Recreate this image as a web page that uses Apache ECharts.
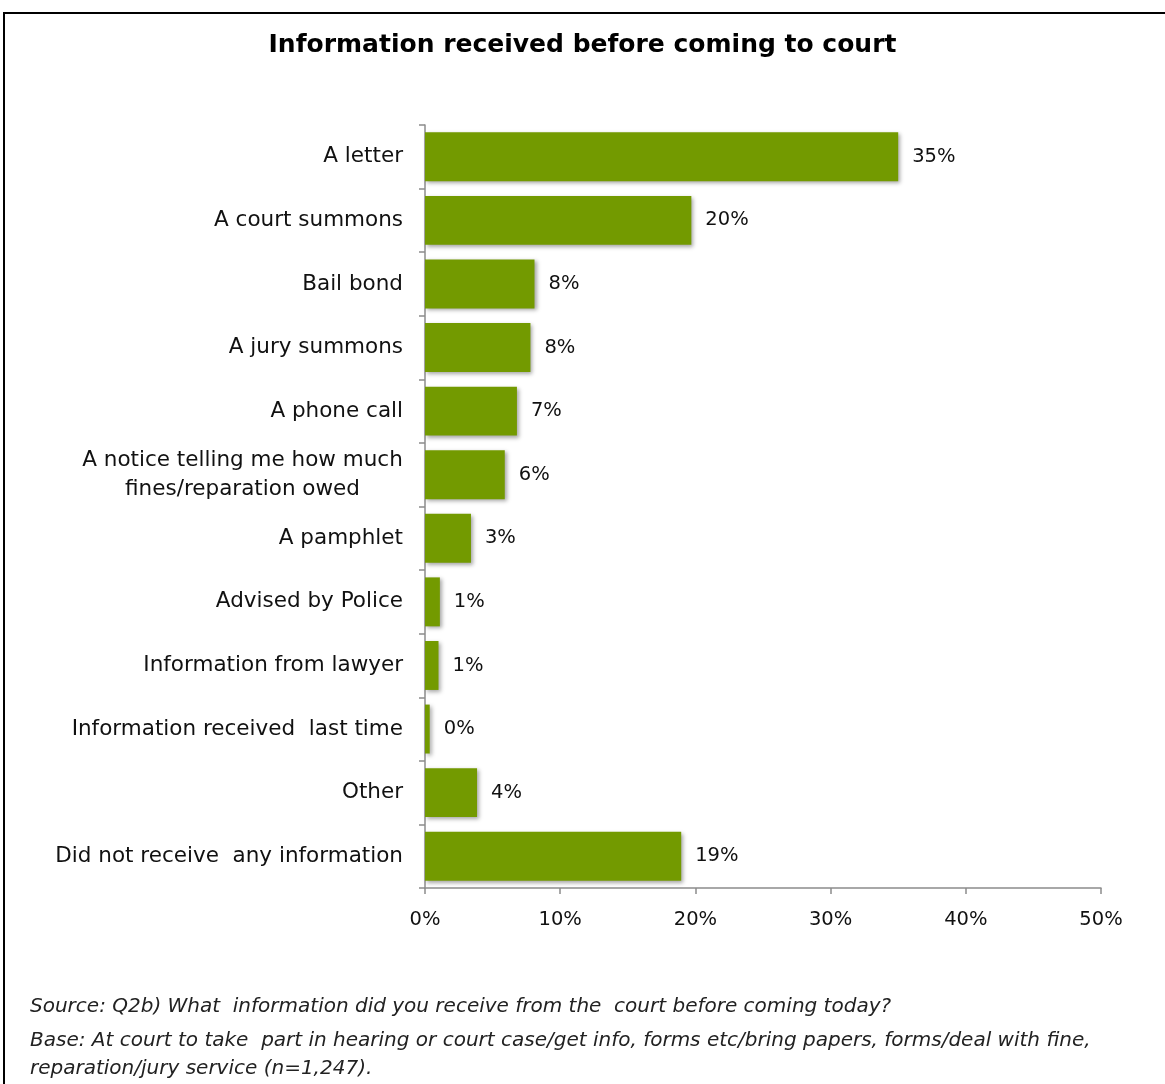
<!DOCTYPE html>
<html>
<head>
<meta charset="utf-8">
<script src="https://cdn.jsdelivr.net/npm/echarts@6/dist/echarts.min.js"></script>
<style>
  html, body { margin: 0; padding: 0; background: #fff; }
  #chart { width: 1165px; height: 1084px; }
</style>
</head>
<body>
<div id="chart"></div>
<script>
// Sources of information received before coming to court (share of respondents, %)
const categories = [
  'A letter',
  'A court summons',
  'Bail bond',
  'A jury summons',
  'A phone call',
  'A notice telling me how much\nfines/reparation owed',
  'A pamphlet',
  'Advised by Police',
  'Information from lawyer',
  'Information received  last time',
  'Other',
  'Did not receive  any information'
];
const shares = [35.0, 19.7, 8.1, 7.8, 6.8, 5.9, 3.4, 1.1, 1.0, 0.35, 3.85, 18.95];
const axisTicks = [0, 10, 20, 30, 40, 50];

const titleText = 'Information received before coming to court';
const sourceNote = 'Source: Q2b) What  information did you receive from the  court before coming today?';
const baseNote1 = 'Base: At court to take  part in hearing or court case/get info, forms etc/bring papers, forms/deal with fine,';
const baseNote2 = 'reparation/jury service (n=1,247).';

const labelFont = '"DejaVu Sans", sans-serif';
const catSize = 21.5;
const numSize = 19.5;
const noteFont = 'italic 20px ' + labelFont;

// Width of the widest line of a multi-line label, so its lines can be centred in one block
function lineWidth(text) {
  const ctx = document.createElement('canvas').getContext('2d');
  ctx.font = catSize + 'px ' + labelFont;
  return Math.ceil(Math.max.apply(null, text.split('\n').map(t => ctx.measureText(t).width)));
}

const chart = echarts.init(document.getElementById('chart'));
// Rows are listed top-down, so the category axis is inverted
const axisMax = axisTicks[axisTicks.length - 1];

chart.setOption({
  animation: false,
  title: {
    text: titleText,
    left: 'center',
    top: 28,
    textStyle: { fontFamily: '"DejaVu Sans", sans-serif', fontWeight: 'bold', fontSize: 25, color: '#000' }
  },
  grid: { left: 425, right: 64, top: 125, height: 763, containLabel: false },
  xAxis: {
    type: 'value',
    min: axisTicks[0],
    max: axisMax,
    interval: 10,
    axisLine: { show: true, lineStyle: { color: '#8c8c8c', width: 1.5 } },
    axisTick: { show: true, length: 6, lineStyle: { color: '#8c8c8c', width: 1.5 } },
    splitLine: { show: false },
    axisLabel: {
      margin: 22,
      formatter: v => v + '%',
      fontFamily: labelFont, fontSize: numSize, color: '#111'
    }
  },
  yAxis: {
    type: 'category',
    inverse: true,
    data: categories,
    axisLine: { show: true, lineStyle: { color: '#8c8c8c', width: 1.5 } },
    axisTick: { show: true, length: 6, lineStyle: { color: '#8c8c8c', width: 1.5 } },
    axisLabel: {
      margin: 22,
      fontFamily: labelFont, fontSize: catSize, color: '#111', lineHeight: 29,
      formatter: function (v) {
        if (v.indexOf('\n') < 0) return v;
        return v.split('\n').map(t => '{c|' + t + '}').join('\n');
      },
      rich: {
        c: { width: lineWidth(categories[5]), align: 'center', fontFamily: labelFont, fontSize: catSize, color: '#111', lineHeight: 29 }
      }
    }
  },
  series: [{
    type: 'bar',
    data: shares,
    barCategoryGap: '23%',
    itemStyle: {
      color: '#739a00',
      shadowColor: 'rgba(0,0,0,0.35)',
      shadowBlur: 4,
      shadowOffsetX: 2,
      shadowOffsetY: 2
    },
    label: {
      show: true,
      position: 'right',
      distance: 14,
      formatter: p => Math.round(p.value) + '%',
      fontFamily: labelFont, fontSize: numSize, color: '#111'
    }
  }],
  graphic: [
    {
      type: 'rect',
      shape: { x: 4, y: 13, width: 1200, height: 1200 },
      style: { fill: 'none', stroke: '#000', lineWidth: 2 },
      silent: true
    },
    {
      type: 'text', left: 30, top: 997,
      style: { text: sourceNote, font: noteFont, fill: '#222' }
    },
    {
      type: 'text', left: 30, top: 1031,
      style: { text: baseNote1, font: noteFont, fill: '#222' }
    },
    {
      type: 'text', left: 30, top: 1059,
      style: { text: baseNote2, font: noteFont, fill: '#222' }
    }
  ]
});
</script>
</body>
</html>
